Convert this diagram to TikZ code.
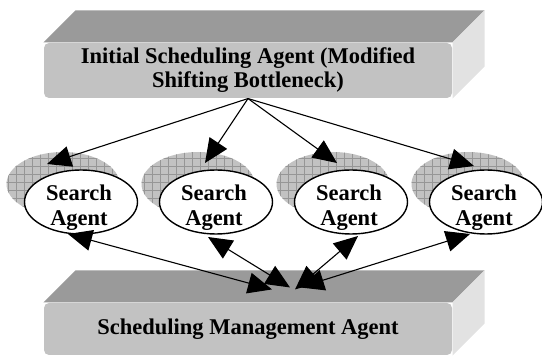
\documentclass[tikz,border=0pt]{standalone}
\usepackage{fontspec}
\setmainfont{Liberation Serif}
\usetikzlibrary{arrows.meta,calc,shadows,shapes.geometric,patterns.meta}

\definecolor{slabtop}{HTML}{9A9A9A}
\definecolor{slabfront}{HTML}{C2C2C2}
\definecolor{slabside}{HTML}{E2E2E2}
\definecolor{shade}{HTML}{C2C2C2}
\definecolor{hatch}{HTML}{969696}

\begin{document}
\begin{tikzpicture}[x=1pt,y=-1pt,node distance=135pt,line width=1.1pt,
  >={Triangle[length=24pt,width=21pt]},
  slab/.style={rectangle,rounded corners=5pt,fill=slabfront,minimum width=408pt,inner sep=0pt,
    align=center,font=\fontsize{22.5}{24}\selectfont\bfseries},
  agent node/.style={ellipse,draw,line width=1.4pt,fill=white,minimum width=113pt,minimum height=64pt,inner sep=0pt,
    general shadow={shadow xshift=-18pt,shadow yshift=18pt,fill=shade},
    general shadow={shadow xshift=-18pt,shadow yshift=18pt,
      pattern={Hatch[angle=0,distance=8pt,line width=0.5pt]},pattern color=hatch}},
  agent text/.style={inner sep=0pt,align=center,font=\fontsize{22.5}{25}\selectfont\bfseries}]

  \useasboundingbox (0,0) rectangle (542,358);

  \node[slab,minimum height=55pt] (init) at (248,70.5) {Initial Scheduling Agent (Modified\\Shifting Bottleneck)};
  \node[slab,minimum height=52pt] (mgmt) at (248,329) {Scheduling Management Agent};

  \foreach \n in {init,mgmt}
  {\fill[slabtop] (\n.north west) -- ++(32,-32) -- ($(\n.north east)+(32,-32)$) -- (\n.north east) -- cycle;
   \fill[slabside] (\n.north east) -- ++(32,-32) -- ($(\n.south east)+(32,-32)$) -- (\n.south east) -- cycle;}

  \node[agent node] (s1) at (81,202) {};
  \node[agent node] (s2) [right of=s1] {};
  \node[agent node] (s3) [right of=s2] {};
  \node[agent node] (s4) [right of=s3] {};

  \foreach \a in {s1,s2,s3,s4}
  {\node[agent text] (\a t) at ($(\a)+(-2,6)$) {Search\\Agent};}

  \foreach \a/\dx/\dy in {s1/-34/-38,s2/-11/-39,s3/-14/-39,s4/-12/-36}
  {\coordinate (in\a) at ($(\a)+(\dx,\dy)$);
   \draw[->] (init.south) -- (in\a);}

  \foreach \a/\ux/\uy/\bx/\by in {s1/-13/32/24/-13,s2/-8/35/42/-15,s3/7/34/47/-13,s4/-16/32/52/-15}
  {\coordinate (up\a) at ($(\a)+(\ux,\uy)$);
   \coordinate (dn\a) at ($(mgmt.north)+(\bx,\by)$);
   \draw[<->] (up\a) -- (dn\a);}

\end{tikzpicture}
\end{document}
